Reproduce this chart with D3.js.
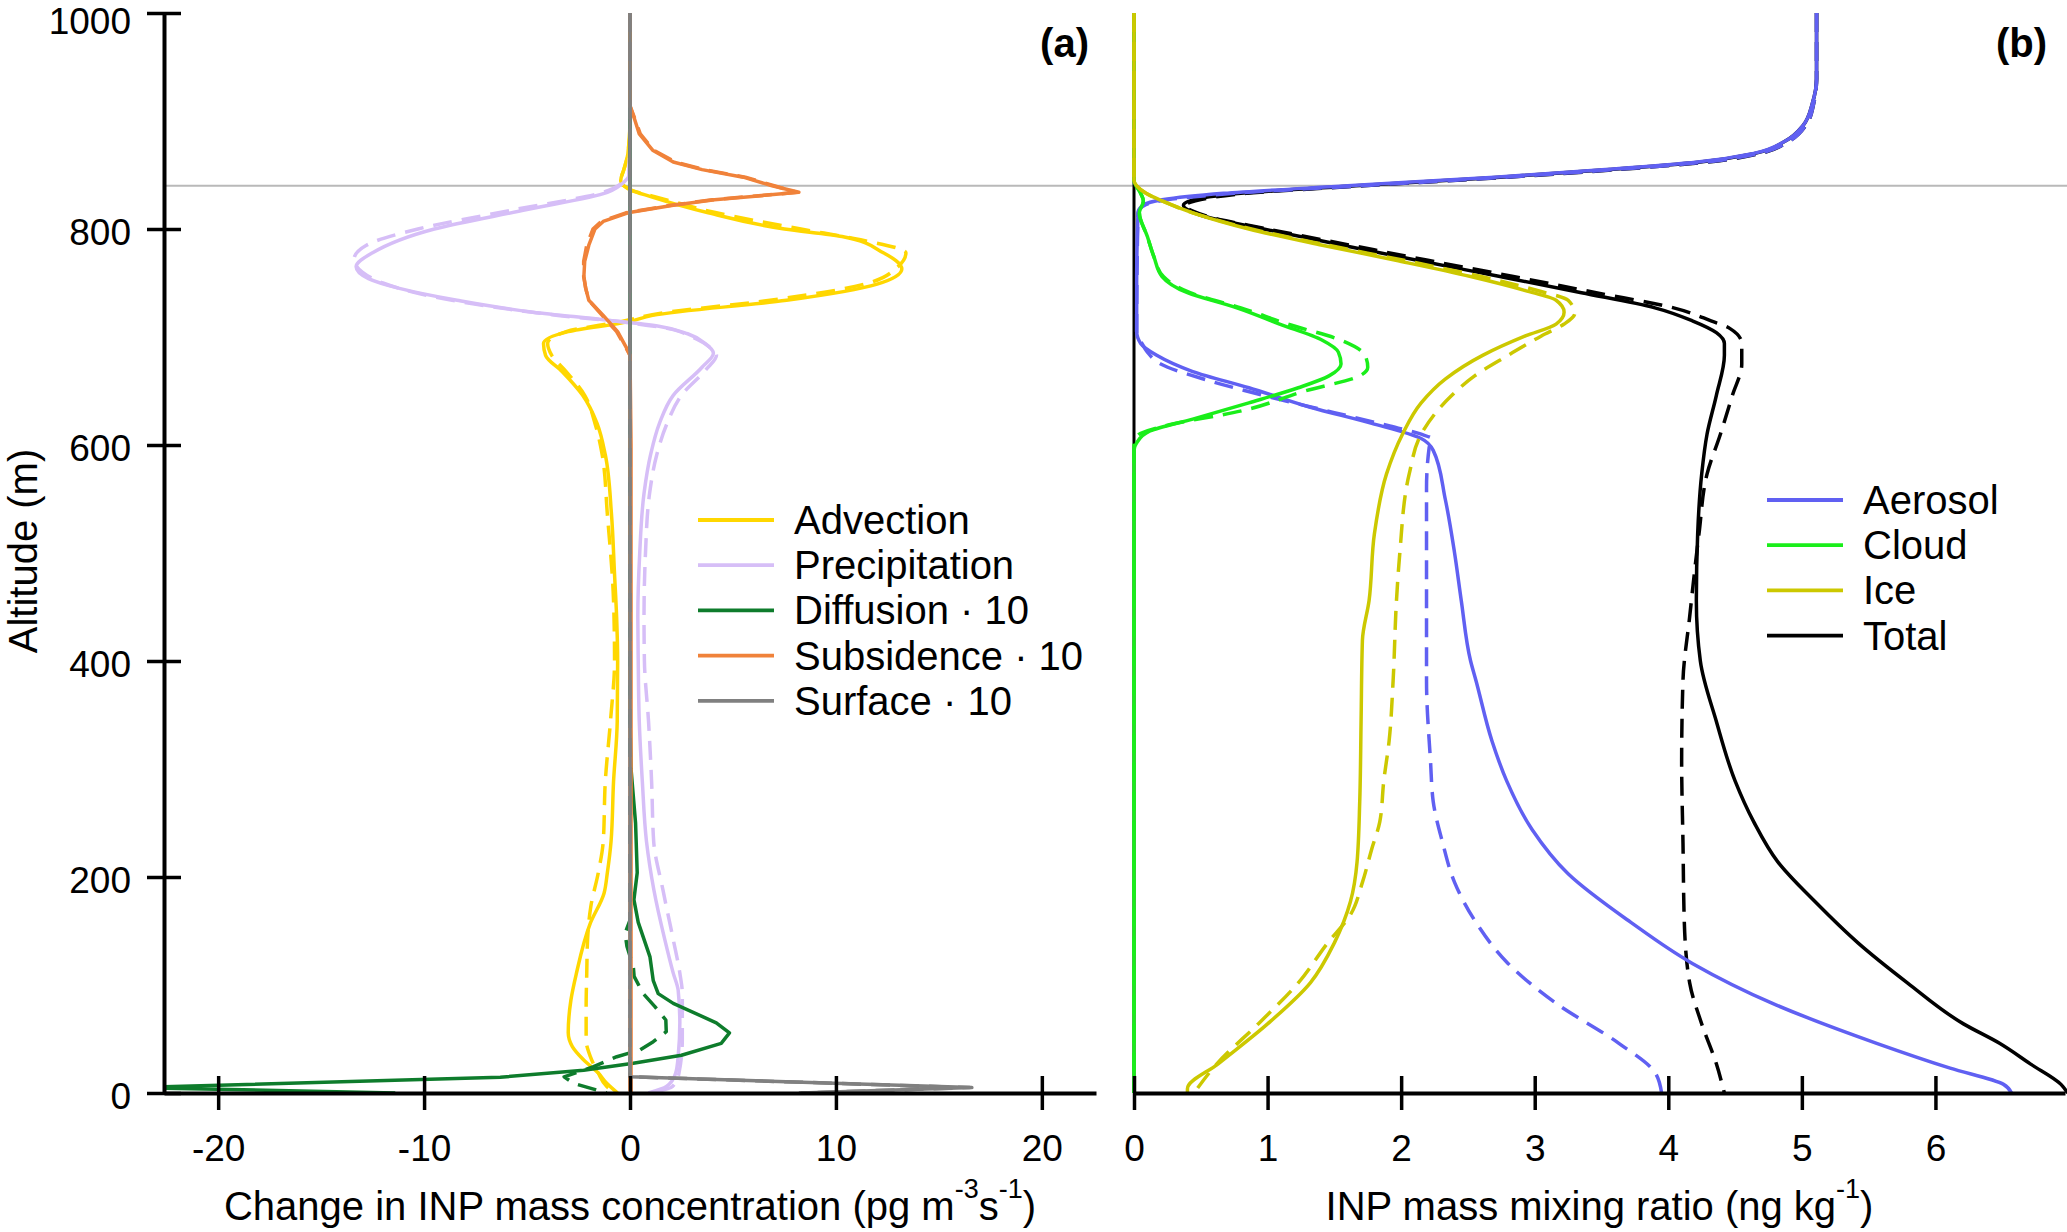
<!DOCTYPE html>
<html>
<head>
<meta charset="utf-8">
<script src="https://cdn.jsdelivr.net/npm/d3@7"></script>
<style>
body{margin:0;background:#fff;}
svg{display:block;}
</style>
</head>
<body>
<script>
//panel (a) series, each point is [altitude m, value]
var advectionSolid = [[1000,0],[900,0],[870,-0.1],[855,-0.3],[845,-0.45],[840,-0.3],[836,0.05],[830,1.0],[815,3.8],[800,7.5],[793,10.3],[778,12.3],[763,13.2],[749,12.0],[734,7.6],[720,1.1],[714,-0.1],[705,-3.0],[694,-4.2],[683,-4.1],[668,-3.3],[646,-2.3],[620,-1.6],[591,-1.2],[536,-0.9],[480,-0.75],[441,-0.65],[400,-0.6],[344,-0.62],[288,-0.8],[233,-0.92],[204,-1.1],[185,-1.26],[157,-1.93],[111,-2.6],[86,-2.87],[56,-3.0],[43,-2.8],[31,-2.27],[18.5,-1.54],[9,-1.13],[0,-0.6]];
var advectionDash = [[1000,0],[900,0],[870,-0.1],[855,-0.3],[845,-0.45],[840,-0.3],[836,0.05],[830,1.2],[815,4.2],[800,8.3],[790,11.2],[778,13.4],[765,13.0],[749,11.4],[734,6.8],[722,1.5],[714,-0.5],[705,-3.1],[694,-4.0],[683,-3.8],[668,-3.1],[646,-2.2],[620,-1.7],[591,-1.35],[536,-1.1],[456,-0.8],[400,-0.75],[344,-0.95],[288,-1.2],[233,-1.3],[204,-1.54],[173,-1.9],[142,-2.06],[111,-2.1],[80,-2.13],[49,-2.13],[34,-1.93],[18.5,-1.54],[6,-1.13],[0,-0.72]];
var precipSolid = [[1000,0],[900,0],[850,-0.05],[844,-0.26],[834,-1.1],[818,-5.0],[800,-9.5],[778,-12.5],[765,-13.3],[754,-12.7],[745,-11.2],[734,-8.4],[723,-4.7],[716,-1.3],[710,1.4],[703,2.8],[694,3.65],[685,4.05],[672,3.5],[646,2.1],[620,1.43],[591,1.0],[555,0.68],[499,0.47],[441,0.38],[400,0.4],[344,0.45],[288,0.6],[233,0.8],[188,1.16],[142,1.69],[111,2.1],[95,2.34],[65,2.42],[34,2.34],[18.5,2.22],[6,1.77],[0,0.89]];
var precipDash = [[1000,0],[900,0],[850,-0.05],[844,-0.3],[834,-1.3],[818,-5.6],[800,-10.3],[785,-12.8],[772,-13.4],[760,-13.0],[750,-12.0],[740,-10.2],[730,-7.4],[720,-3.5],[713,0.0],[708,1.8],[700,3.0],[690,3.9],[683,4.2],[670,3.7],[646,2.5],[620,1.8],[591,1.3],[555,0.95],[499,0.75],[441,0.68],[400,0.7],[344,0.9],[288,1.05],[233,1.15],[188,1.6],[142,2.1],[111,2.42],[92,2.54],[50,2.54],[18.5,2.38],[6,2.06],[0,0.97]];
var diffusionSolid = [[1000,0],[350,0],[300,0.05],[250,0.27],[204,0.35],[179,0.19],[158,0.4],[126,0.97],[104,1.13],[92,1.37],[83,2.1],[65,4.19],[55.6,4.83],[46,4.43],[35,2.5],[27.5,0.16],[21,-2.25],[14.6,-6.3],[5,-24],[0,-11.4]];
var diffusionDash = [[1000,0],[160,0],[148,-0.24],[136,-0.15],[117,0.16],[108,0.2],[92,0.64],[80,1.21],[67.6,1.74],[56.8,1.76],[47.5,1.13],[39.8,0.48],[33.6,-0.64],[24.4,-1.77],[15,-3.2],[9,-2.74],[0,-1.13]];
var subsidenceSolid = [[1000,0],[914,0],[903,0.2],[888,0.45],[873,1.1],[862,2.1],[855,3.5],[848,5.5],[840,6.9],[834,8.2],[827,4.1],[822,2.1],[815,-0.1],[807,-1.3],[800,-1.7],[785,-2.0],[770,-2.2],[756,-2.24],[745,-2.15],[734,-2.0],[720,-1.3],[705,-0.6],[690,-0.17],[683,0],[600,0.05],[0,0.05]];
var subsidenceDash = [[1000,0],[914,0],[903,0.22],[888,0.5],[873,1.15],[862,2.2],[855,3.6],[848,5.6],[840,7.0],[834,8.1],[827,4.0],[822,2.0],[815,-0.2],[807,-1.4],[800,-1.8],[785,-2.1],[770,-2.25],[756,-2.25],[745,-2.15],[734,-2.0],[720,-1.35],[705,-0.65],[690,-0.2],[683,0],[0,0]];
var surfaceSolid = [[1000,0],[15,0],[5,16.6],[0,8.3]];
var surfaceDash = [[1000,0],[15,0],[5,16.5],[0,8.2]];

//panel (b) series
var aerosolSolid = [[1000,5.11],[939,5.11],[917,5.08],[896,5.01],[881,4.87],[870,4.64],[862,4.22],[855,3.53],[848,2.7],[840,1.6],[833,0.67],[827,0.21],[822,0.07],[815,0.03],[750,0.02],[705,0.02],[694,0.05],[683,0.17],[668,0.44],[653,0.86],[635,1.32],[620,1.78],[606,2.15],[595,2.24],[550,2.33],[500,2.4],[456,2.45],[400,2.52],[382,2.56],[326,2.68],[289,2.79],[244,2.98],[203,3.25],[158,3.72],[120,4.18],[83,4.78],[46,5.56],[23,6.11],[8,6.51],[0,6.57]];
var aerosolDash = [[1000,5.11],[939,5.11],[917,5.09],[896,5.03],[881,4.9],[870,4.68],[862,4.28],[855,3.6],[848,2.78],[840,1.7],[833,0.75],[827,0.25],[822,0.08],[815,0.03],[705,0.02],[694,0.06],[686,0.1],[675,0.2],[660,0.55],[645,1.0],[630,1.5],[618,1.9],[610,2.15],[605,2.24],[598,2.21],[560,2.19],[456,2.19],[382,2.19],[307,2.22],[270,2.24],[232,2.31],[195,2.4],[158,2.56],[120,2.8],[83,3.16],[46,3.63],[19,3.9],[0,3.95]];
var cloudSolid = [[1000,0],[845,0],[833,0.05],[826,0.07],[815,0.04],[793,0.1],[774,0.15],[756,0.21],[741,0.4],[727,0.77],[712,1.09],[697,1.41],[686,1.53],[675,1.55],[664,1.46],[653,1.23],[639,0.86],[624,0.44],[613,0.12],[602,0.02],[595,0],[0,0]];
var cloudDash = [[1000,0],[845,0],[833,0.05],[826,0.07],[815,0.04],[793,0.1],[774,0.15],[756,0.22],[741,0.42],[727,0.8],[712,1.15],[697,1.55],[683,1.73],[672,1.75],[664,1.69],[650,1.28],[632,0.82],[617,0.21],[609,0.03],[600,0],[0,0]];
var iceSolid = [[1000,0],[845,0],[840,0.02],[833,0.09],[826,0.21],[815,0.44],[800,0.86],[785,1.41],[771,1.96],[756,2.52],[743,2.93],[734,3.16],[723,3.22],[712,3.16],[701,2.93],[683,2.61],[661,2.33],[639,2.15],[610,2.01],[573,1.89],[518,1.8],[456,1.76],[419,1.71],[344,1.7],[270,1.69],[214,1.67],[177,1.62],[139,1.5],[102,1.32],[64,1.0],[27,0.63],[4,0.4],[0,0.4]];
var iceDash = [[1000,0],[845,0],[840,0.02],[833,0.09],[826,0.21],[815,0.44],[800,0.88],[785,1.45],[771,2.02],[756,2.6],[743,3.02],[734,3.25],[722,3.3],[712,3.22],[701,3.05],[683,2.8],[664,2.55],[646,2.38],[610,2.15],[573,2.06],[500,1.99],[456,1.965],[382,1.94],[326,1.91],[289,1.87],[251,1.84],[226,1.78],[195,1.71],[165,1.62],[139,1.45],[102,1.23],[64,0.93],[27,0.62],[0,0.45]];
var totalSolid = [[1000,5.11],[939,5.11],[917,5.08],[896,5.01],[881,4.87],[870,4.65],[862,4.24],[855,3.56],[848,2.74],[840,1.66],[833,0.8],[826,0.42],[822,0.37],[816,0.43],[812,0.52],[800,0.97],[785,1.56],[771,2.12],[756,2.74],[741,3.35],[727,3.9],[715,4.18],[704,4.36],[694,4.42],[683,4.42],[646,4.36],[610,4.29],[573,4.25],[518,4.22],[456,4.21],[400,4.24],[344,4.36],[289,4.5],[251,4.64],[214,4.82],[177,5.1],[139,5.42],[102,5.79],[64,6.21],[46,6.48],[27,6.71],[8,6.94],[0,6.99]];
var totalDash = [[1000,5.11],[939,5.11],[917,5.09],[896,5.03],[881,4.9],[870,4.69],[862,4.3],[855,3.62],[848,2.8],[840,1.72],[833,0.84],[826,0.46],[822,0.38],[816,0.45],[812,0.54],[800,1.0],[785,1.62],[771,2.2],[756,2.84],[741,3.46],[727,4.04],[715,4.32],[708,4.46],[694,4.55],[675,4.55],[646,4.48],[610,4.39],[573,4.29],[518,4.23],[441,4.16],[382,4.11],[307,4.1],[232,4.11],[158,4.12],[102,4.16],[64,4.25],[27,4.36],[0,4.42]];

//labels and ticks
var namesA = ["Advection","Precipitation","Diffusion \u00b7 10","Subsidence \u00b7 10","Surface \u00b7 10"];
var namesB = ["Aerosol","Cloud","Ice","Total"];
var altTicks = [0,200,400,600,800,1000];
var concTicks = [-20,-10,0,10,20];
var ratioTicks = [0,1,2,3,4,5,6];
var inversionAlt = 840;

//globals
var W=2067, H=1232;
var font="'Liberation Sans', Arial, Helvetica, sans-serif";
var colA = ["#FFD700","#D6BEF7","#0E7C2C","#F0823A","#808080"];
var colB = ["#6060F2","#1AEE1A","#CCC800","#000000"];
var lw=3.5, dash="19,10";

var svg = d3.select("body").append("svg").attr("width",W).attr("height",H)
    .attr("font-family",font);

var y = d3.scaleLinear().domain([0,1000]).range([1093,13]);
var xA = d3.scaleLinear().domain([-22.63,22.63]).range([164,1096]);
var xB = d3.scaleLinear().domain([0,6.97]).range([1134,2065]);

//clip areas
var defs = svg.append("defs");
defs.append("clipPath").attr("id","clipA").append("rect")
    .attr("x",xA.range()[0]).attr("y",0).attr("width",xA.range()[1]-xA.range()[0]).attr("height",1100);
defs.append("clipPath").attr("id","clipB").append("rect")
    .attr("x",xB.range()[0]-4).attr("y",0).attr("width",W-xB.range()[0]+4).attr("height",1100);

//inversion line across both panels
svg.append("line")
    .attr("x1",xA.range()[0]).attr("x2",W)
    .attr("y1",y(inversionAlt)).attr("y2",y(inversionAlt))
    .attr("stroke","#b9b9b9").attr("stroke-width",2);

//panel b zero line
svg.append("line")
    .attr("x1",xB(0)).attr("x2",xB(0)).attr("y1",y(0)).attr("y2",y(1000))
    .attr("stroke","#000").attr("stroke-width",3);

function drawLines(g, x, series, cols, curves){
    series.forEach(function(s,i){
        var line = d3.line()
            .x(function(d){return x(d[1]);})
            .y(function(d){return y(d[0]);})
            .curve(curves[i]);
        //dashed run first, solid on top
        g.append("path").datum(s[1])
            .attr("d",line).attr("fill","none")
            .attr("stroke",cols[i]).attr("stroke-width",lw)
            .attr("stroke-dasharray",dash)
            .attr("stroke-linejoin","round");
        g.append("path").datum(s[0])
            .attr("d",line).attr("fill","none")
            .attr("stroke",cols[i]).attr("stroke-width",lw)
            .attr("stroke-linejoin","round");
    });
}

var gA = svg.append("g").attr("clip-path","url(#clipA)");
var sm = d3.curveMonotoneY, ln = d3.curveLinear;
drawLines(gA, xA,
    [[advectionSolid,advectionDash],[precipSolid,precipDash],[diffusionSolid,diffusionDash],
     [subsidenceSolid,subsidenceDash],[surfaceSolid,surfaceDash]],
    colA, [sm,sm,ln,ln,ln]);

var gB = svg.append("g").attr("clip-path","url(#clipB)");
//total goes underneath the components
drawLines(gB, xB,
    [[totalSolid,totalDash],[aerosolSolid,aerosolDash],[cloudSolid,cloudDash],[iceSolid,iceDash]],
    [colB[3],colB[0],colB[1],colB[2]], [sm,sm,sm,sm]);

//axes, plain hyphen for negatives
var plain = function(d){return String(d);};
function styleAxis(g, vertical){
    g.attr("font-family",font).attr("font-size",37);
    g.select(".domain").attr("stroke","#000").attr("stroke-width",4);
    g.selectAll(".tick line").attr("stroke","#000").attr("stroke-width",3.5);
    if(vertical){
        g.selectAll(".tick line").attr("x1",-17).attr("x2",17);
        g.selectAll(".tick text").attr("dy",function(d){return d==1000 ? "0.55em" : "0.42em";});
    } else {
        g.selectAll(".tick line").attr("y1",-17).attr("y2",17);
    }
    g.selectAll(".tick text").attr("fill","#000");
}

var yAxisA = svg.append("g").attr("transform","translate("+xA.range()[0]+",0)")
    .call(d3.axisLeft(y).tickValues(altTicks).tickSize(17).tickSizeOuter(0).tickPadding(16).tickFormat(plain));
styleAxis(yAxisA,true);

var xAxisA = svg.append("g").attr("transform","translate(0,"+y(0)+")")
    .call(d3.axisBottom(xA).tickValues(concTicks).tickSize(17).tickSizeOuter(0).tickPadding(25).tickFormat(plain));
styleAxis(xAxisA,false);

var xAxisB = svg.append("g").attr("transform","translate(0,"+y(0)+")")
    .call(d3.axisBottom(xB).tickValues(ratioTicks).tickSize(17).tickSizeOuter(0).tickPadding(25).tickFormat(plain));
styleAxis(xAxisB,false);

//axis titles
svg.append("text")
    .attr("transform","translate(37,551) rotate(-90)")
    .attr("text-anchor","middle").attr("font-size",40)
    .text("Altitude (m)");

var tA = svg.append("text").attr("x",d3.mean(xA.range())).attr("y",1220)
    .attr("text-anchor","middle").attr("font-size",40);
tA.append("tspan").text("Change in INP mass concentration (pg m");
tA.append("tspan").attr("dy",-22).attr("font-size",27).text("-3");
tA.append("tspan").attr("dy",22).text("s");
tA.append("tspan").attr("dy",-22).attr("font-size",27).text("-1");
tA.append("tspan").attr("dy",22).text(")");

var tB = svg.append("text").attr("x",d3.mean(xB.range())).attr("y",1220)
    .attr("text-anchor","middle").attr("font-size",40);
tB.append("tspan").text("INP mass mixing ratio (ng kg");
tB.append("tspan").attr("dy",-22).attr("font-size",27).text("-1");
tB.append("tspan").attr("dy",22).text(")");

//panel letters
svg.append("text").attr("x",1089).attr("y",57).attr("text-anchor","end")
    .attr("font-size",40).attr("font-weight","bold").text("(a)");
svg.append("text").attr("x",2047).attr("y",57).attr("text-anchor","end")
    .attr("font-size",40).attr("font-weight","bold").text("(b)");

//legends
function legend(names, cols, x0, y0){
    var g = svg.append("g");
    var row = g.selectAll("g").data(names).enter().append("g")
        .attr("transform",function(d,i){return "translate("+x0+","+(y0+i*45.2)+")";});
    row.append("line").attr("x1",0).attr("x2",76).attr("y1",0).attr("y2",0)
        .attr("stroke",function(d,i){return cols[i];}).attr("stroke-width",lw+0.3);
    row.append("text").attr("x",96).attr("y",14).attr("font-size",40)
        .text(function(d){return d;});
}
legend(namesA, colA, 698, 520);
legend(namesB, colB, 1767, 500);
</script>
</body>
</html>
